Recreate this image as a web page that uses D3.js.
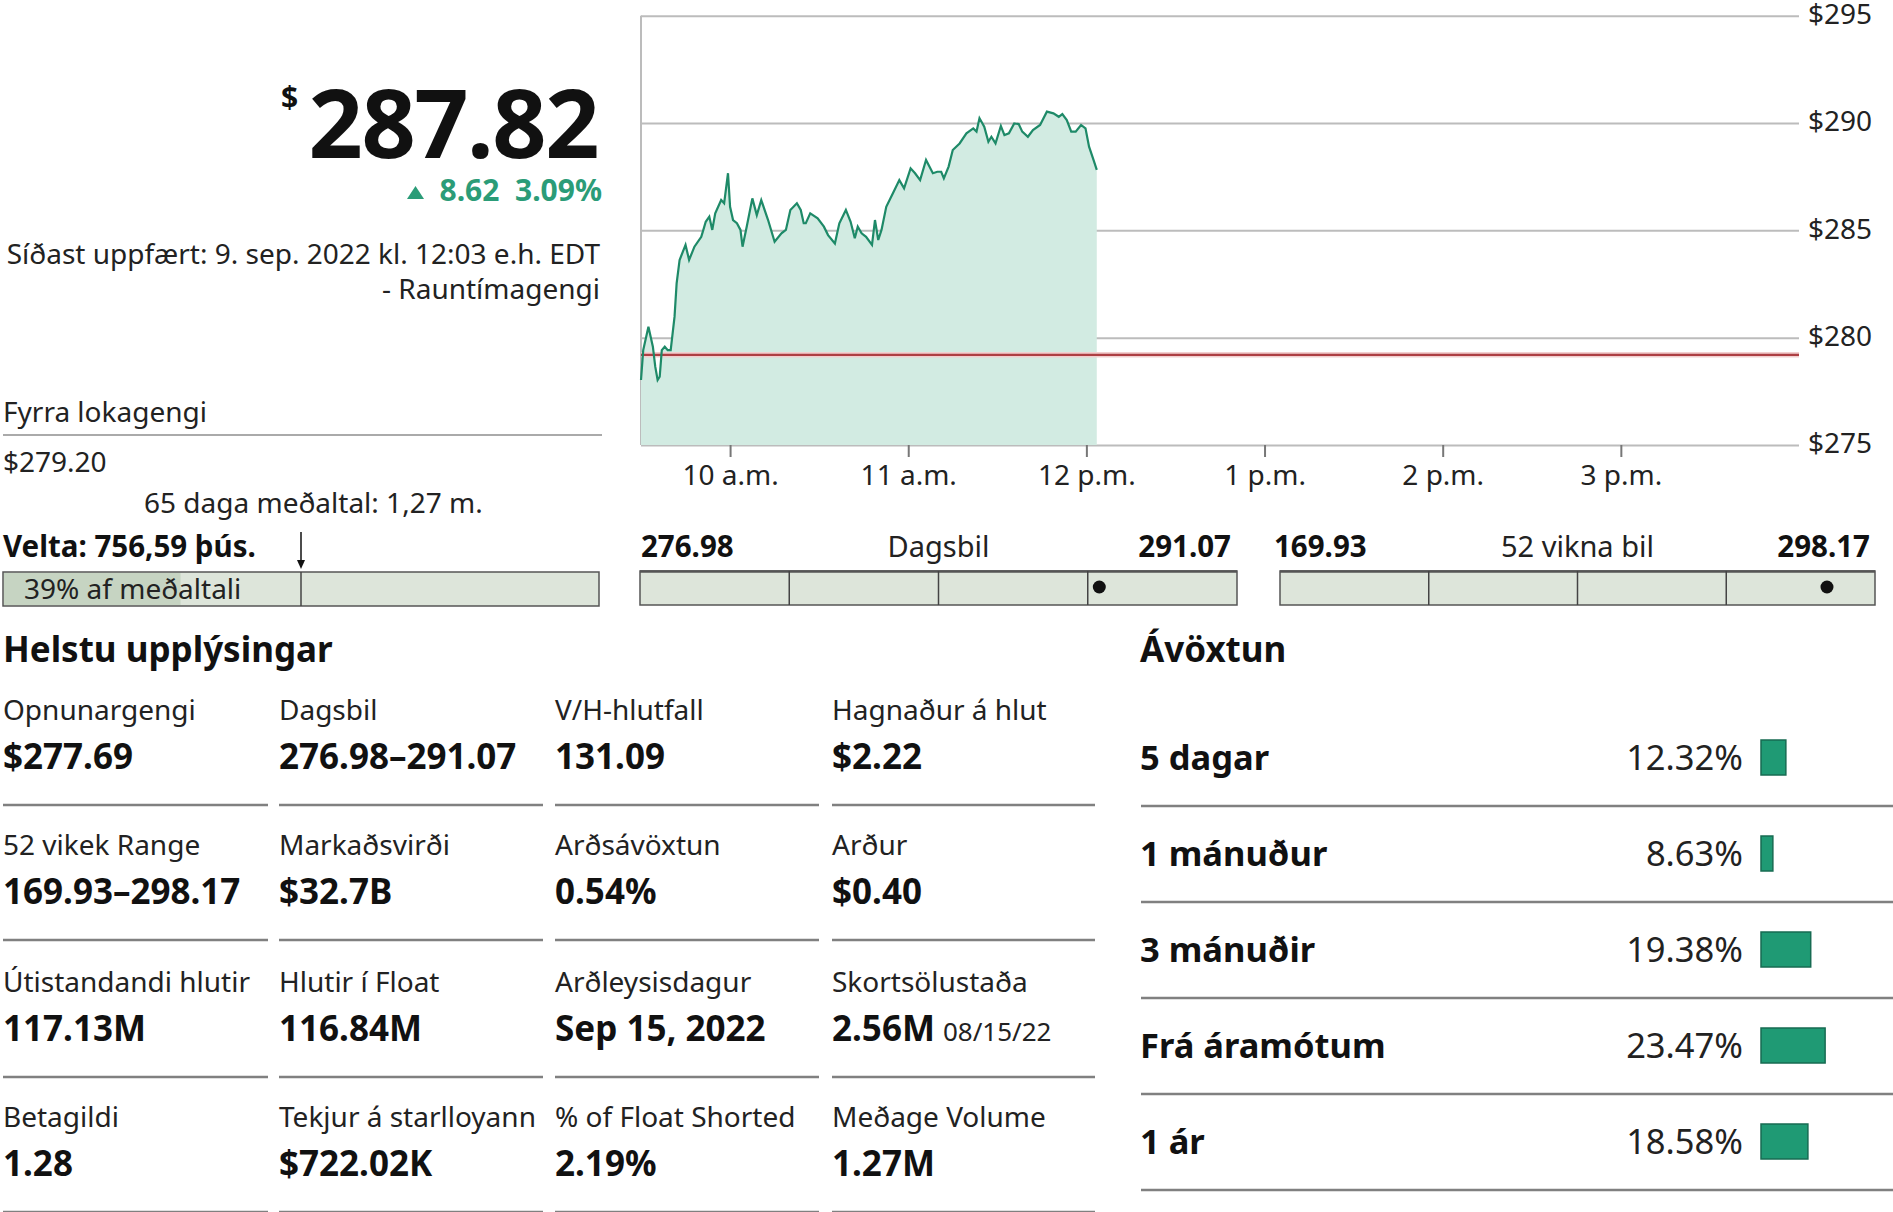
<!DOCTYPE html>
<html><head><meta charset="utf-8">
<script src="https://cdn.jsdelivr.net/npm/d3@7"></script>
<style>
html,body{margin:0;padding:0;background:#fff;}
svg{display:block;font-family:"Noto Sans",sans-serif;}
</style></head>
<body><svg id="c" width="1893" height="1212"></svg>
<script>
// ---------- DATA ----------
const times = ["09:30:00","09:30:45","09:32:30","09:34:00","09:34:48","09:35:36","09:36:18","09:37:00","09:38:00","09:39:00","09:40:00","09:41:18","09:42:00","09:43:00","09:45:00","09:46:12","09:48:00","09:50:18","09:51:00","09:51:48","09:53:00","09:54:00","09:55:00","09:57:00","09:58:00","09:59:18","10:00:00","10:01:00","10:02:18","10:03:30","10:04:12","10:05:36","10:07:30","10:09:00","10:10:30","10:12:48","10:15:00","10:17:18","10:18:48","10:20:18","10:22:30","10:23:48","10:24:48","10:25:30","10:27:00","10:29:30","10:31:36","10:33:00","10:35:18","10:36:48","10:39:00","10:40:36","10:42:00","10:43:00","10:44:18","10:45:48","10:47:48","10:48:48","10:49:54","10:51:00","10:52:36","10:54:48","10:57:00","10:58:36","11:00:48","11:02:18","11:04:00","11:06:00","11:08:18","11:09:48","11:11:06","11:12:00","11:13:36","11:15:00","11:17:18","11:19:36","11:21:54","11:23:00","11:24:00","11:25:36","11:27:00","11:28:00","11:29:24","11:31:12","11:32:24","11:33:54","11:35:42","11:37:12","11:38:24","11:40:18","11:42:00","11:44:24","11:46:42","11:48:54","11:50:42","11:51:54","11:53:24","11:54:54","11:56:24","11:58:12","11:59:42","12:00:54","12:02:24","12:03:30"];
const prices = [278.03,279.42,280.51,279.58,278.65,278.03,278.18,279.42,279.58,279.42,279.42,280.98,282.53,283.62,284.32,283.62,284.24,284.70,285.02,285.40,285.64,285.02,285.79,286.41,286.26,287.66,286.10,285.48,285.33,285.02,284.24,285.17,286.49,285.71,286.41,285.48,284.47,284.86,285.02,285.95,286.26,285.95,285.33,285.33,285.79,285.56,285.17,284.78,284.39,285.33,285.95,285.40,284.63,285.17,284.86,284.70,284.32,285.48,284.55,285.02,286.10,286.72,287.34,286.96,287.89,287.66,287.34,288.28,287.66,287.73,287.73,287.42,287.97,288.74,289.05,289.52,289.75,289.60,290.22,289.83,289.13,289.36,289.05,289.86,289.44,289.52,289.98,289.95,289.60,289.36,289.67,289.91,290.53,290.45,290.29,290.42,290.14,289.60,289.60,289.91,289.75,288.90,288.28,287.82];
const previousClose = 279.20;
const yTicks = [275, 280, 285, 290, 295];
const xTickTimes = ["10:00:00","11:00:00","12:00:00","13:00:00","14:00:00","15:00:00"];
const xTickLabels = ["10 a.m.","11 a.m.","12 p.m.","1 p.m.","2 p.m.","3 p.m."];
const sessionStart = "09:30:00", sessionEnd = "16:00:00";

const lastPrice = "287.82", change = "8.62", changePct = "3.09%";
const updatedText = ["Síðast uppfært: 9. sep. 2022 kl. 12:03 e.h. EDT", "- Rauntímagengi"];
const prevCloseLabel = "Fyrra lokagengi", prevCloseText = "$279.20";
const avgVolLabel = "65 daga meðaltal: 1,27 m.";
const volumeLabel = "Velta: 756,59 þús.";
const volumePctLabel = "39% af meðaltali";
const volume = 756.59, avgVolume = 1270;

const rangeNames = ["Dagsbil", "52 vikna bil"];
const rangeLows = [276.98, 169.93];
const rangeHighs = [291.07, 298.17];
const currentValue = 287.82;

const infoTitle = "Helstu upplýsingar";
const infoLabels = [
  ["Opnunargengi","Dagsbil","V/H-hlutfall","Hagnaður á hlut"],
  ["52 vikek Range","Markaðsvirði","Arðsávöxtun","Arður"],
  ["Útistandandi hlutir","Hlutir í Float","Arðleysisdagur","Skortsölustaða"],
  ["Betagildi","Tekjur á starlloyann","% of Float Shorted","Meðage Volume"]];
const infoValues = [
  ["$277.69","276.98–291.07","131.09","$2.22"],
  ["169.93–298.17","$32.7B","0.54%","$0.40"],
  ["117.13M","116.84M","Sep 15, 2022","2.56M"],
  ["1.28","$722.02K","2.19%","1.27M"]];
const infoNotes = [["","","",""],["","","",""],["","","","08/15/22"],["","","",""]];

const perfTitle = "Ávöxtun";
const perfPeriods = ["5 dagar","1 mánuður","3 mánuðir","Frá áramótum","1 ár"];
const perfValues = [12.32, 8.63, 19.38, 23.47, 18.58];

// ---------- DRAW ----------
const svg = d3.select("#c");
const green = "#1f9a74", greenText = "#2b9c78";
const parse = d3.timeParse("%H:%M:%S");
const data = times.map((t,i)=>({t:parse(t), v:prices[i]}));

const x = d3.scaleTime().domain([parse(sessionStart), parse(sessionEnd)]).range([641, 1799]);
const y = d3.scaleLinear().domain([275, 295]).range([445, 15.7]);

// gridlines + y labels
const yAxis = d3.axisRight(y).tickValues(yTicks).tickSizeInner(-(1799-641)).tickSizeOuter(0)
  .tickPadding(9).tickFormat(d=>"$"+d);
const gy = svg.append("g").attr("transform","translate(1799,0)").call(yAxis);
gy.select(".domain").remove();
gy.selectAll(".tick line").attr("stroke","#bcbcbc").attr("stroke-width",2);
gy.selectAll(".tick text").attr("font-size",28).attr("fill","#222").attr("font-family","Noto Sans").attr("dy","0.28em");

// left axis line
svg.append("line").attr("x1",641).attr("x2",641).attr("y1",y(295)).attr("y2",y(275))
  .attr("stroke","#bcbcbc").attr("stroke-width",2);

// area + line
const area = d3.area().x(d=>x(d.t)).y0(y(275)).y1(d=>y(d.v));
svg.append("path").datum(data).attr("d",area).attr("fill","#d2ebe2");
// previous close line
svg.append("line").attr("x1",641).attr("x2",1799).attr("y1",y(previousClose)).attr("y2",y(previousClose))
  .attr("stroke","#f2cfcf").attr("stroke-width",5.5);
svg.append("line").attr("x1",641).attr("x2",1799).attr("y1",y(previousClose)).attr("y2",y(previousClose))
  .attr("stroke","#ad3f43").attr("stroke-width",2.4);
const line = d3.line().x(d=>x(d.t)).y(d=>y(d.v));
svg.append("path").datum(data).attr("d",line).attr("fill","none").attr("stroke","#1e8a68").attr("stroke-width",2.2);

// x axis
const xAxis = d3.axisBottom(x).tickValues(xTickTimes.map(parse)).tickSizeInner(12).tickSizeOuter(0)
  .tickPadding(8).tickFormat((d,i)=>xTickLabels[i]);
const gx = svg.append("g").attr("transform",`translate(0,${y(275)})`).call(xAxis);
gx.select(".domain").remove();
gx.selectAll(".tick line").attr("stroke","#777").attr("stroke-width",2);
gx.selectAll(".tick text").attr("font-size",28).attr("fill","#222").attr("font-family","Noto Sans");

// ---- left header ----
svg.append("text").attr("x",281).attr("y",108).attr("font-size",30).attr("font-weight",700).attr("fill","#111").text("$");
svg.append("text").attr("x",598).attr("y",158).attr("text-anchor","end").attr("font-size",95).attr("font-weight",700)
  .attr("fill","#111").attr("letter-spacing",-1.5).text(lastPrice);
svg.append("path").attr("d","M407,199 L415.5,186 L424,199 Z").attr("fill",greenText);
svg.append("text").attr("x",602).attr("y",201).attr("text-anchor","end").attr("font-size",30).attr("font-weight",700)
  .attr("fill",greenText).attr("xml:space","preserve").text(change+"  "+changePct);
svg.append("text").attr("x",600).attr("y",264).attr("text-anchor","end").attr("font-size",28).attr("fill","#222").text(updatedText[0]);
svg.append("text").attr("x",600).attr("y",299).attr("text-anchor","end").attr("font-size",28).attr("fill","#222").text(updatedText[1]);

svg.append("text").attr("x",3).attr("y",422).attr("font-size",28).attr("fill","#222").text(prevCloseLabel);
svg.append("line").attr("x1",3).attr("x2",602).attr("y1",435).attr("y2",435).attr("stroke","#aaa").attr("stroke-width",2);
svg.append("text").attr("x",3).attr("y",472).attr("font-size",28).attr("fill","#222").text(prevCloseText);
svg.append("text").attr("x",144).attr("y",513).attr("font-size",28).attr("fill","#222").text(avgVolLabel);
svg.append("text").attr("x",3).attr("y",557).attr("font-size",29.5).attr("font-weight",700).attr("fill","#111").text(volumeLabel);

// volume bar
const vx = d3.scaleLinear().domain([0, 2*avgVolume]).range([3, 599]);
svg.append("rect").attr("x",3).attr("y",572).attr("width",vx(2*avgVolume)-3).attr("height",34)
  .attr("fill","#dde5da").attr("stroke","#555").attr("stroke-width",1.5);
svg.append("rect").attr("x",4).attr("y",573).attr("width",vx(volume)-4).attr("height",32).attr("fill","#c6d4c2");
svg.append("line").attr("x1",vx(avgVolume)).attr("x2",vx(avgVolume)).attr("y1",572).attr("y2",606).attr("stroke","#444").attr("stroke-width",1.5);
svg.append("line").attr("x1",vx(avgVolume)).attr("x2",vx(avgVolume)).attr("y1",532).attr("y2",562).attr("stroke","#111").attr("stroke-width",1.5);
svg.append("path").attr("d",`M${vx(avgVolume)-4},560 L${vx(avgVolume)+4},560 L${vx(avgVolume)},569 Z`).attr("fill","#111");
svg.append("text").attr("x",24).attr("y",599).attr("font-size",28).attr("fill","#222").text(volumePctLabel);

// range bars
const rangeBoxes = [[640,1237],[1280,1875]];
const lowOffset = [1, -6], highOffset = [-6, -5];
rangeNames.forEach((nm,i)=>{
  const [x0,x1] = rangeBoxes[i];
  const s = d3.scaleLinear().domain([rangeLows[i], rangeHighs[i]]).range([x0, x1]);
  svg.append("text").attr("x",x0+lowOffset[i]).attr("y",557).attr("font-size",29.5).attr("font-weight",700).attr("fill","#111").text(rangeLows[i].toFixed(2));
  svg.append("text").attr("x",x1+highOffset[i]).attr("y",557).attr("text-anchor","end").attr("font-size",29.5).attr("font-weight",700).attr("fill","#111").text(rangeHighs[i].toFixed(2));
  svg.append("text").attr("x",(x0+x1)/2).attr("y",557).attr("text-anchor","middle").attr("font-size",29).attr("fill","#222").text(nm);
  svg.append("rect").attr("x",x0).attr("y",571).attr("width",x1-x0).attr("height",34)
    .attr("fill","#dde5da").attr("stroke","#555").attr("stroke-width",1.5);
  svg.append("line").attr("x1",x0).attr("x2",x1).attr("y1",571.5).attr("y2",571.5).attr("stroke","#555").attr("stroke-width",2.5);
  [0.25,0.5,0.75].forEach(f=>{
    const xx = x0 + f*(x1-x0);
    svg.append("line").attr("x1",xx).attr("x2",xx).attr("y1",571).attr("y2",605).attr("stroke","#444").attr("stroke-width",1.5);
  });
  svg.append("circle").attr("cx",s(currentValue)).attr("cy",587).attr("r",6.5).attr("fill","#111");
});

// key info table
svg.append("text").attr("x",3).attr("y",662).attr("font-size",35).attr("font-weight",700).attr("fill","#111").text(infoTitle);
const colX = [3, 279, 555, 832];
const colW = [265, 264, 264, 263];
const rowLabelY = [720, 855, 992, 1127];
infoLabels.forEach((row,r)=>{
  row.forEach((lab,c)=>{
    svg.append("text").attr("x",colX[c]).attr("y",rowLabelY[r]).attr("font-size",28).attr("fill","#222").text(lab);
    const t = svg.append("text").attr("x",colX[c]).attr("y",rowLabelY[r]+49).attr("fill","#111");
    t.append("tspan").attr("font-size",35).attr("font-weight",700).text(infoValues[r][c]);
    if (infoNotes[r][c]) t.append("tspan").attr("font-size",26).attr("fill","#222").attr("dx",8).text(infoNotes[r][c]);
    svg.append("line").attr("x1",colX[c]).attr("x2",colX[c]+colW[c]).attr("y1",rowLabelY[r]+85).attr("y2",rowLabelY[r]+85)
      .attr("stroke","#808080").attr("stroke-width",2.5);
  });
});

// performance
svg.append("text").attr("x",1140).attr("y",662).attr("font-size",35).attr("font-weight",700).attr("fill","#111").text(perfTitle);
const pw = d3.scaleLinear().domain([5.26, 25]).range([0, 69.5]);
const rowY = d3.scaleLinear().domain([0,4]).range([770, 1154]);
perfPeriods.forEach((p,i)=>{
  const by = rowY(i);
  svg.append("text").attr("x",1140).attr("y",by).attr("font-size",34.5).attr("font-weight",700).attr("fill","#111").text(p);
  svg.append("text").attr("x",1743).attr("y",by).attr("text-anchor","end").attr("font-size",34.5).attr("fill","#222").text(perfValues[i].toFixed(2)+"%");
  svg.append("rect").attr("x",1761).attr("y",by-30).attr("width",pw(perfValues[i])).attr("height",35)
    .attr("fill",green).attr("stroke","#176b52").attr("stroke-width",1.5);
  svg.append("line").attr("x1",1141).attr("x2",1893).attr("y1",by+36).attr("y2",by+36).attr("stroke","#808080").attr("stroke-width",2.5);
});
</script></body></html>
